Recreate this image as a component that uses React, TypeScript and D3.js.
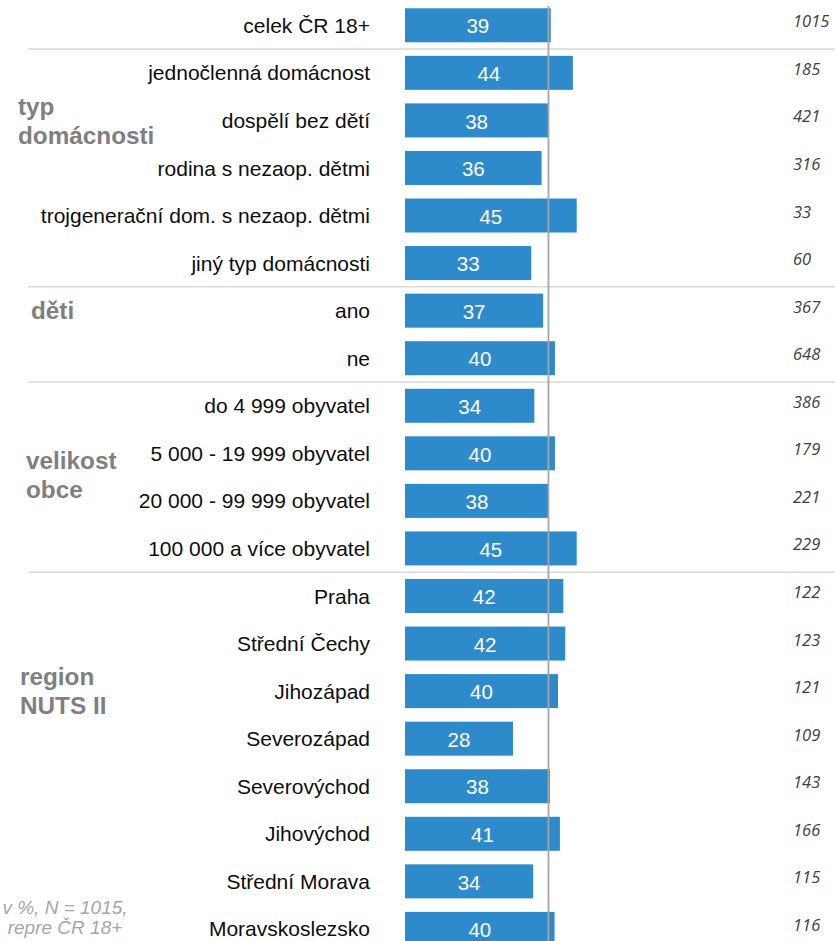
import React, { useRef, useEffect } from 'react'
import * as d3 from 'd3'

// rows, top to bottom
const categories = [
  'celek ČR 18+',
  'jednočlenná domácnost',
  'dospělí bez dětí',
  'rodina s nezaop. dětmi',
  'trojgenerační dom. s nezaop. dětmi',
  'jiný typ domácnosti',
  'ano',
  'ne',
  'do 4 999 obyvatel',
  '5 000 - 19 999 obyvatel',
  '20 000 - 99 999 obyvatel',
  '100 000 a více obyvatel',
  'Praha',
  'Střední Čechy',
  'Jihozápad',
  'Severozápad',
  'Severovýchod',
  'Jihovýchod',
  'Střední Morava',
  'Moravskoslezsko',
]
// printed (rounded) shares in %
const values = [39, 44, 38, 36, 45, 33, 37, 40, 34, 40, 38, 45, 42, 42, 40, 28, 38, 41, 34, 40]
// unrounded shares
const exact = [38.2, 44.0, 37.5, 35.8, 45.0, 33.1, 36.2, 39.3, 33.9, 39.3, 37.7, 45.0, 41.5, 42.0, 40.1, 28.3, 38.0, 40.6, 33.6, 39.2]
// number of respondents
const counts = [1015, 185, 421, 316, 33, 60, 367, 648, 386, 179, 221, 229, 122, 123, 121, 109, 143, 166, 115, 116]
const totalLine = 37.6

const groupNames = [['typ', 'domácnosti'], ['děti'], ['velikost', 'obce'], ['region', 'NUTS II']]
const separatorAfter = [0, 5, 7, 11]
const noteLines = ['v %, N = 1015,', 'repre ČR 18+']

// layout of group titles (left edge, first baseline)
const groupPos = [
  { x: 18, y: 115 },
  { x: 31, y: 319 },
  { x: 26, y: 469 },
  { x: 20, y: 685 },
]

const width = 835
const height = 941

const App = () => {
  const ref = useRef<SVGSVGElement>(null)

  useEffect(() => {
    document.body.style.margin = '0'
    const svg = d3.select(ref.current)
    svg.selectAll('*').remove()

    const idx = categories.map((_, i) => i)

    const y = d3.scaleBand<number>()
      .domain(idx)
      .range([1.5, 952.7])
      .paddingInner(0.285)
      .paddingOuter(0.1425)

    const x = d3.scaleLinear()
      .domain([0, 45])
      .range([405, 576.7])

    const step = y.step()
    const gap = step - y.bandwidth()

    // separators
    svg.append('g')
      .selectAll('line')
      .data(separatorAfter)
      .join('line')
      .attr('x1', 28)
      .attr('x2', width)
      .attr('y1', d => (y(d + 1) as number) - gap / 2)
      .attr('y2', d => (y(d + 1) as number) - gap / 2)
      .attr('stroke', '#d9d9d9')
      .attr('stroke-width', 1.5)

    // bars
    svg.append('g')
      .selectAll('rect')
      .data(idx)
      .join('rect')
      .attr('x', x(0))
      .attr('y', d => y(d) as number)
      .attr('width', d => x(exact[d]) - x(0))
      .attr('height', y.bandwidth())
      .attr('fill', '#2d8bcb')

    // total reference line
    svg.append('line')
      .attr('x1', x(totalLine))
      .attr('x2', x(totalLine))
      .attr('y1', 6)
      .attr('y2', height)
      .attr('stroke', '#a6a6a6')
      .attr('stroke-width', 1.8)

    // value labels
    svg.append('g')
      .selectAll('text')
      .data(idx)
      .join('text')
      .attr('x', d => (x(0) + x(exact[d])) / 2)
      .attr('y', d => (y(d) as number) + y.bandwidth() / 2)
      .attr('dy', '0.4em')
      .attr('text-anchor', 'middle')
      .attr('font-family', '"Liberation Sans", Arial, sans-serif')
      .attr('font-size', 20.5)
      .attr('fill', '#fff')
      .text(d => values[d])

    // category labels
    svg.append('g')
      .selectAll('text')
      .data(idx)
      .join('text')
      .attr('x', 370)
      .attr('y', d => (y(d) as number) + y.bandwidth() / 2)
      .attr('dy', '0.36em')
      .attr('text-anchor', 'end')
      .attr('font-family', '"Liberation Sans", Arial, sans-serif')
      .attr('font-size', 21)
      .attr('fill', '#0d0d0d')
      .text(d => categories[d])

    // counts
    svg.append('g')
      .selectAll('text')
      .data(idx)
      .join('text')
      .attr('x', 793)
      .attr('y', d => (y(d) as number) + y.bandwidth() / 2 + 2)
      .attr('font-family', '"Open Sans", sans-serif')
      .attr('font-style', 'italic')
      .attr('font-size', 16.5)
      .attr('fill', '#404040')
      .text(d => counts[d])

    // group titles
    const gt = svg.append('g')
      .selectAll('text')
      .data(groupNames)
      .join('text')
      .attr('font-family', '"Liberation Sans", Arial, sans-serif')
      .attr('font-weight', 'bold')
      .attr('font-size', 24.3)
      .attr('fill', '#7f7f7f')
    gt.each(function (lines, i) {
      d3.select(this)
        .selectAll('tspan')
        .data(lines)
        .join('tspan')
        .attr('x', groupPos[i].x)
        .attr('y', (_, j) => groupPos[i].y + j * 28.5)
        .text(l => l)
    })

    // note
    svg.append('g')
      .selectAll('text')
      .data(noteLines)
      .join('text')
      .attr('x', 65)
      .attr('y', (_, j) => 914 + j * 19.5)
      .attr('text-anchor', 'middle')
      .attr('font-family', '"Liberation Sans", Arial, sans-serif')
      .attr('font-style', 'italic')
      .attr('font-size', 19)
      .attr('fill', '#a6a6a6')
      .text(d => d)
  }, [])

  return (
    <div>
      <svg ref={ref} width={width} height={height} style={{ display: 'block' }}></svg>
    </div>
  )
}

export default App
